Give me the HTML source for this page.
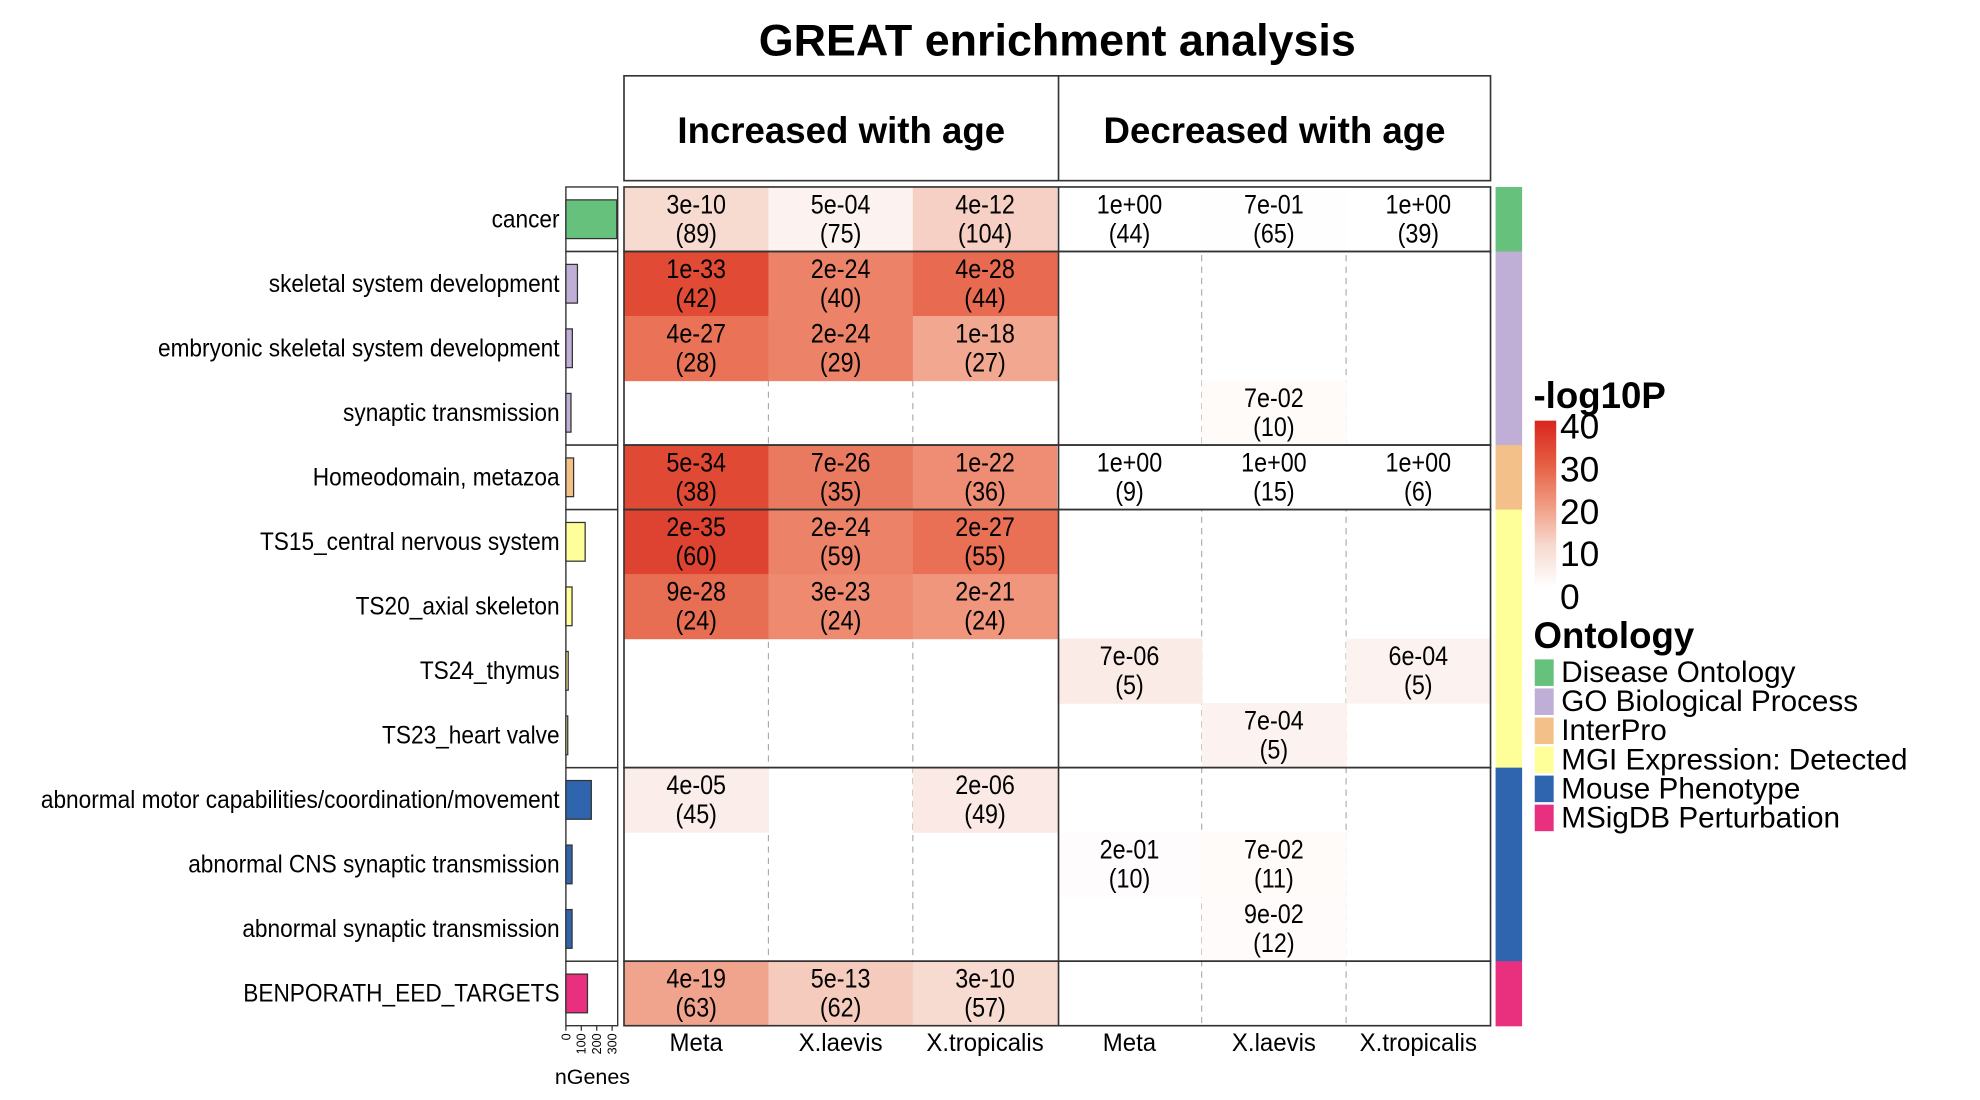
<!DOCTYPE html>
<html><head><meta charset="utf-8"><style>
html,body{margin:0;padding:0;background:#fff}
svg{display:block}
.n{font-family:"Liberation Sans Narrow","Liberation Sans",sans-serif}
.w{font-family:"Liberation Sans",sans-serif}
</style></head><body>
<svg id="chart" width="1980" height="1100" viewBox="0 0 1567.5 870.8" xmlns="http://www.w3.org/2000/svg">
<text class="w" x="837" y="44" text-anchor="middle" font-size="35.5" font-weight="bold">GREAT enrichment analysis</text>
<g>
<rect x="494" y="60" width="686" height="83" fill="none" stroke="#333" stroke-width="1.3"/>
<line x1="838" y1="60" x2="838" y2="143" stroke="#333" stroke-width="1.3"/>
<text class="n" x="666" y="113" text-anchor="middle" font-size="29" font-weight="bold">Increased with age</text>
<text class="n" x="1009" y="113" text-anchor="middle" font-size="29" font-weight="bold">Decreased with age</text>
</g>
<g id="cells"></g><g id="grid"></g><g id="bars"></g><g id="labels"></g><g id="strip"></g>
<g>
<text class="w" x="1214" y="323" font-size="29" font-weight="bold">-log10P</text>
<defs><linearGradient id="cg" x1="0" y1="1" x2="0" y2="0">
<stop offset="0" stop-color="#ffffff"/><stop offset="0.25" stop-color="#f7d9cf"/><stop offset="0.5" stop-color="#f09a80"/><stop offset="0.75" stop-color="#e55b40"/><stop offset="1" stop-color="#d7261e"/></linearGradient></defs>
<rect x="1215" y="333" width="17" height="132" fill="url(#cg)"/>
<g class="w" font-size="28" fill="#000">
<text x="1235" y="347">40</text><text x="1235" y="381">30</text><text x="1235" y="415">20</text><text x="1235" y="448">10</text><text x="1235" y="482">0</text></g>
</g>
<g id="ontlegend">
<text class="w" x="1214" y="513" font-size="29" font-weight="bold">Ontology</text>
</g>
<g class="n" font-size="20" text-anchor="middle" id="xlab"></g>
<text class="n" x="469" y="858" font-size="17" text-anchor="middle">nGenes</text>
</svg>
<script>
const NS='http://www.w3.org/2000/svg';
const rowNames=["cancer","skeletal system development","embryonic skeletal system development","synaptic transmission","Homeodomain, metazoa","TS15_central nervous system","TS20_axial skeleton","TS24_thymus","TS23_heart valve","abnormal motor capabilities/coordination/movement","abnormal CNS synaptic transmission","abnormal synaptic transmission","BENPORATH_EED_TARGETS"];
const colNames=["Meta","X.laevis","X.tropicalis","Meta","X.laevis","X.tropicalis"];
const pvals=[
["3e-10","5e-04","4e-12","1e+00","7e-01","1e+00"],
["1e-33","2e-24","4e-28",null,null,null],
["4e-27","2e-24","1e-18",null,null,null],
[null,null,null,null,"7e-02",null],
["5e-34","7e-26","1e-22","1e+00","1e+00","1e+00"],
["2e-35","2e-24","2e-27",null,null,null],
["9e-28","3e-23","2e-21",null,null,null],
[null,null,null,"7e-06",null,"6e-04"],
[null,null,null,null,"7e-04",null],
["4e-05",null,"2e-06",null,null,null],
[null,null,null,"2e-01","7e-02",null],
[null,null,null,null,"9e-02",null],
["4e-19","5e-13","3e-10",null,null,null]];
const counts=[
[89,75,104,44,65,39],[42,40,44,0,0,0],[28,29,27,0,0,0],[0,0,0,0,10,0],[38,35,36,9,15,6],
[60,59,55,0,0,0],[24,24,24,0,0,0],[0,0,0,5,0,5],[0,0,0,0,5,0],[45,0,49,0,0,0],
[0,0,0,10,11,0],[0,0,0,0,12,0],[63,62,57,0,0,0]];
const nGenes=[330,75,42,33,50,125,40,15,12,165,40,40,140];
const ontology=[0,1,1,1,2,3,3,3,3,4,4,4,5];
const ontNames=["Disease Ontology","GO Biological Process","InterPro","MGI Expression: Detected","Mouse Phenotype","MSigDB Perturbation"];
const ontColors=["#66c17c","#bfaed6","#f4c08a","#ffff99","#2f65ae","#e8307f"];
const blocks=[[0,0],[1,3],[4,4],[5,8],[9,11],[12,12]];
const geneTicks=[0,100,200,300];

const X0=494,X1=1180,Y0=148,Y1=812;
const rowH=(Y1-Y0)/rowNames.length, colW=(X1-X0)/colNames.length;
const yRow=i=>Y0+i*rowH, xCol=j=>X0+j*colW;
const BX=448, xGene=v=>BX+v*0.122;
const stops=[[0,[255,255,255]],[10,[247,217,207]],[20,[240,154,128]],[30,[229,91,64]],[40,[215,38,30]]];
function color(v){v=Math.max(0,Math.min(40,v));for(let k=1;k<stops.length;k++){if(v<=stops[k][0]){const a=stops[k-1],b=stops[k],t=(v-a[0])/(b[0]-a[0]);return 'rgb('+a[1].map((c,i)=>Math.round(c+(b[1][i]-c)*t)).join(',')+')';}}}
function mk(tag,attrs,parent,txt){const e=document.createElementNS(NS,tag);for(const k in attrs)e.setAttribute(k,attrs[k]);if(txt!=null)e.textContent=txt;parent.appendChild(e);return e;}
const gC=document.getElementById('cells'),gG=document.getElementById('grid'),gB=document.getElementById('bars'),gL=document.getElementById('labels'),gS=document.getElementById('strip');
for(const j of [1,2,4,5]){const l=mk('line',{x1:xCol(j),y1:Y0,x2:xCol(j),y2:Y1,stroke:'#aaa','stroke-width':0.9,'stroke-dasharray':'5,4'},gC);

}
pvals.forEach((row,i)=>{row.forEach((p,j)=>{if(p==null)return;
const v=-Math.log10(parseFloat(p));
const g=mk('g',{},gC);


mk('rect',{x:xCol(j),y:yRow(i),width:colW+0.5,height:rowH+0.5,fill:color(v)},g);
const cx=xCol(j)+colW/2;
mk('text',{transform:'translate('+cx+','+(yRow(i)+rowH*0.41)+') scale(0.88,1)','text-anchor':'middle','font-size':21,class:'n'},g,p);
mk('text',{transform:'translate('+cx+','+(yRow(i)+rowH*0.86)+') scale(0.88,1)','text-anchor':'middle','font-size':21,class:'n'},g,'('+counts[i][j]+')');});});
blocks.forEach(([a,b])=>{const r=mk('rect',{x:X0,y:yRow(a),width:X1-X0,height:yRow(b+1)-yRow(a),fill:'none',stroke:'#333','stroke-width':1.3},gG);


const r2=mk('rect',{x:BX,y:yRow(a),width:41,height:yRow(b+1)-yRow(a),fill:'none',stroke:'#333','stroke-width':1.1},gG);

});
mk('line',{x1:838,y1:Y0,x2:838,y2:Y1,stroke:'#333','stroke-width':1.3},gG);
nGenes.forEach((n,i)=>{const r=mk('rect',{x:BX,y:yRow(i)+rowH*0.2,width:xGene(n)-BX,height:rowH*0.6,fill:ontColors[ontology[i]],stroke:'#333','stroke-width':1},gB);


const t=mk('text',{transform:'translate(443,'+(yRow(i)+rowH/2+6.5)+') scale(0.92,1)','text-anchor':'end','font-size':19.5,class:'n'},gL,rowNames[i]);


const s=mk('rect',{x:1184,y:yRow(i),width:21,height:rowH+0.5,fill:ontColors[ontology[i]]},gS);

});
geneTicks.forEach(t=>{const x=xGene(t);mk('line',{x1:x,y1:Y1,x2:x,y2:Y1+4,stroke:'#333'},gB);
const tx=mk('text',{x:0,y:0,transform:'translate('+(x+3.5)+','+(Y1+6)+') rotate(-90)','text-anchor':'end','font-size':10,class:'n'},gB,String(t));

});
const gX=document.getElementById('xlab');
colNames.forEach((c,j)=>{const t=mk('text',{transform:'translate('+(xCol(j)+colW/2)+',832) scale(0.95,1)'},gX,c);

});
const gO=document.getElementById('ontlegend');
ontNames.forEach((n,k)=>{const y=522+k*23;
const s=mk('rect',{x:1215,y:y,width:15,height:21,fill:ontColors[k]},gO);


const t=mk('text',{x:1236,y:y+18,'font-size':23.5,class:'w'},gO,n);

});
</script>
</body></html>
